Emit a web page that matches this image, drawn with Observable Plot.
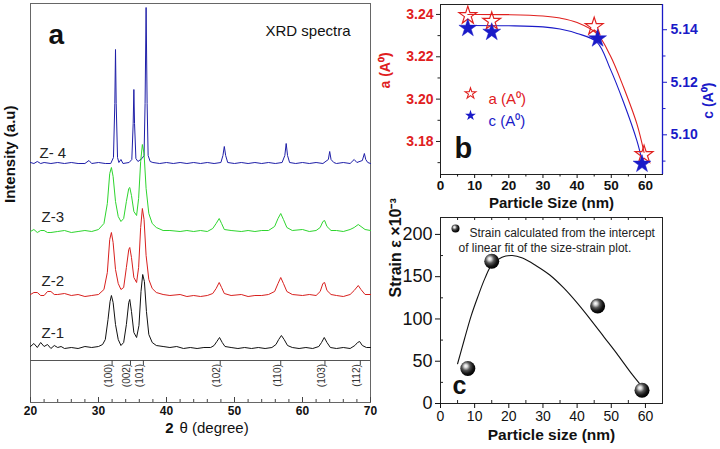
<!DOCTYPE html>
<html><head><meta charset="utf-8">
<script src="https://cdn.jsdelivr.net/npm/d3@7"></script>
<script src="https://cdn.jsdelivr.net/npm/@observablehq/plot@0.6"></script>
<style>
html,body{margin:0;padding:0;background:#fff;}
#wrap{position:relative;width:720px;height:449px;overflow:hidden;background:#fff;}
#wrap > div{position:absolute;}
svg{overflow:visible;}
</style></head>
<body><div id="wrap"><div id="pa" style="left:0;top:0"></div><div id="pb" style="left:370px;top:0"></div><div id="pc" style="left:370px;top:212px"></div></div>
<script>
// ---------------- DATA ----------------
// Panel a: XRD spectra, [2theta, intensity above own baseline]
const spectraNames = ["Z-1", "Z-2", "Z-3", "Z- 4"];
const spectraOffsets = [53, 105, 169, 239];
const z1Points = [[20,3],[20.5,6],[21,2],[21.5,7],[22,3],[22.5,5],[23,1],[23.5,4],[24,2],[24.5,3],[25,1],[26,2],[27,1],[28,3],[29,2],[30,3],[30.6,5],[31.0,10],[31.4,30],[31.7,48],[31.9,54],[32.15,47],[32.5,25],[32.9,10],[33.3,4],[33.7,7],[34.1,25],[34.45,47],[34.6,50],[34.85,38],[35.2,17],[35.6,12],[35.95,24],[36.25,58],[36.5,75],[36.75,68],[37.05,38],[37.4,15],[37.9,7],[38.5,4],[39.5,3],[40.5,2],[41.5,3],[42.5,1],[43.5,2],[44.5,1],[45.5,2],[46.5,2],[47.0,4],[47.4,8],[47.8,12],[48.2,7],[48.6,3],[49.5,2],[50.5,1],[51.5,2],[52.5,1],[53.5,2],[54.5,1],[55.5,2],[56.1,5],[56.5,10],[56.9,14],[57.3,10],[57.8,4],[58.5,2],[59.5,1],[60.5,2],[61.5,1],[62.4,3],[62.8,7],[63.2,12],[63.6,7],[64.1,2],[65,1],[66,2],[67,1],[67.7,4],[68.1,7],[68.4,8],[68.8,4],[69.4,2],[70,2]];
const z2Points = [[20,3],[20.5,5],[21,5],[21.5,2],[22,2],[22.5,6],[23,6],[23.5,3],[24,3],[25,4],[26,2],[27,3],[28,1],[29,2],[30,3],[30.8,8],[31.3,25],[31.65,58],[31.9,65],[32.15,55],[32.5,28],[32.9,14],[33.3,8],[33.7,10],[34.1,30],[34.45,48],[34.6,50],[34.85,40],[35.2,20],[35.6,15],[35.9,30],[36.2,70],[36.45,89],[36.7,78],[37.0,42],[37.4,18],[37.9,9],[38.5,5],[39.5,3],[40.5,2],[42,3],[43,1],[44,2],[45,1],[46,2],[46.8,4],[47.3,9],[47.75,15],[48.1,10],[48.5,4],[49.5,2],[51,3],[52,1],[53,2],[54,2],[55,3],[55.9,6],[56.4,14],[56.8,20],[57.2,14],[57.7,6],[58.5,3],[60,2],[61,3],[62,2],[62.6,6],[63.0,14],[63.25,15],[63.6,7],[64.2,3],[65,2],[66,1],[67,3],[67.6,7],[68.2,12],[68.6,8],[69.2,3],[70,3]];
const z3Points = [[20,2],[20.5,4],[21,1],[21.5,3],[22,3],[22.5,1],[23,1],[24,2],[25,3],[26,1],[27,2],[28,3],[29,2],[30,4],[30.8,10],[31.3,30],[31.65,60],[31.9,66],[32.15,57],[32.5,32],[32.9,17],[33.3,12],[33.7,15],[34.1,32],[34.45,45],[34.6,46],[34.85,38],[35.2,22],[35.6,18],[35.9,35],[36.2,72],[36.45,89],[36.7,80],[37.0,45],[37.4,20],[37.9,10],[38.5,6],[39.5,3],[40.5,3],[42,2],[43,3],[44,2],[45,3],[46,2],[46.8,5],[47.3,10],[47.75,15],[48.1,10],[48.5,4],[49.5,3],[51,2],[52,3],[53,2],[54,3],[55,3],[55.9,7],[56.4,15],[56.8,20],[57.2,14],[57.7,6],[58.5,3],[60,4],[61,2],[62,3],[62.6,6],[63.0,12],[63.25,13],[63.6,7],[64.2,3],[65,3],[66,2],[67,4],[67.6,6],[68.2,9],[68.6,7],[69.2,4],[70,3]];
const z4Points = [[20,1],[20.5,0],[21,2],[21.5,0],[22,1],[23,0],[24,1],[25,0],[26,1],[27,0],[28,0],[28.6,3],[29,0],[30,1],[31,0],[31.8,0],[32.2,6],[32.4,60],[32.5,114],[32.6,60],[32.8,6],[33.0,1],[33.3,4],[33.6,0],[34.5,1],[34.9,4],[35.1,40],[35.2,74],[35.3,40],[35.5,5],[35.8,2],[36.4,5],[36.7,8],[36.85,60],[37.0,156],[37.15,60],[37.3,8],[37.6,2],[38,1],[39,0],[40,1],[41,0],[42,1],[43,0],[44,1],[45,0],[46,1],[47,0],[48,1],[48.3,8],[48.5,17],[48.7,8],[49,1],[50,0],[51,1],[52,0],[53,1],[54,0],[55,1],[56,0],[57,1],[57.4,8],[57.6,20],[57.8,8],[58.1,1],[59,0],[60,1],[61,0],[62,1],[63,0],[63.8,4],[64.0,12],[64.2,4],[64.6,1],[65,0],[66,1],[67,0],[67.6,4],[68,1],[68.8,3],[69.1,10],[69.3,4],[69.6,1],[70,0]];
const hklLabels = ["(100)", "(002)", "(101)", "(102)", "(110)", "(103)", "(112)"];
const hklPos = [32.0, 34.7, 36.6, 47.9, 56.8, 63.3, 68.5];
const xTicksA = [20, 30, 40, 50, 60, 70];

// Panel b: lattice parameters vs particle size
const sizeA = [8, 15, 45, 59.6];
const aValues = [3.2395, 3.2368, 3.2343, 3.1738];
const sizeC = [8, 15, 46, 59];
const cValues = [5.1406, 5.1391, 5.1366, 5.0889];
const aFitX = [8, 20, 30, 35, 40, 45.8, 49.7, 53.6, 57.5, 59.6];
const aFitY = [3.2400, 3.2399, 3.2393, 3.2383, 3.2362, 3.2309, 3.2206, 3.2056, 3.1883, 3.1748];
const cFitX = [8, 20, 30, 35, 40, 45.8, 49.7, 53.6, 57.5, 59];
const cFitY = [5.1416, 5.1415, 5.1411, 5.1403, 5.1386, 5.1353, 5.1251, 5.1124, 5.0978, 5.0902];
const aTicks = [3.18, 3.20, 3.22, 3.24];
const cTicks = [5.10, 5.12, 5.14];
const xTicksB = [0, 10, 20, 30, 40, 50, 60];

// Panel c: strain vs particle size
const sizeStrain = [8, 15, 46, 59];
const strainValues = [41.4, 168.2, 115.4, 15.7];
const strainFitX = [5, 7, 9, 11, 13, 15, 18, 21, 24, 28, 32, 36, 40, 44, 48, 52, 56, 59];
const strainFitY = [47, 76, 104, 127, 148, 164, 173, 175, 172, 163, 152, 137, 119, 99, 78, 57, 35, 20];
const strainTicks = [0, 50, 100, 150, 200];

// ---------------- STYLE ----------------
const FONT = '"Liberation Sans", Arial, Helvetica, sans-serif';
const RED = "#e0201e", BLUE = "#1a1ac8";
const specColors = ["#111111", "#d8201e", "#2ed52e", "#1f1fa8"];

// ---------------- PANEL A ----------------
const SEP = 42;          // separator line (intensity units)
const FH_A = 399;        // frame height in px
const toRows = (pts, off) => pts.map(([t, v]) => ({t, I: off + v}));
const allSpectra = [z1Points, z2Points, z3Points, z4Points];
const minorA = d3.range(22, 70, 2).filter(d => d % 10 !== 0);
const lineMarks = [3, 2, 1, 0].map(i =>
  Plot.line(toRows(allSpectra[i], spectraOffsets[i]), {x: "t", y: "I", stroke: specColors[i], strokeWidth: 1})
);
const pa = Plot.plot({
  width: 372, height: 449, marginLeft: 30, marginRight: 2, marginTop: 3, marginBottom: 47,
  style: {fontFamily: FONT, background: "transparent", color: "#111"},
  x: {domain: [20, 70]},
  y: {domain: [0, 399], axis: null},
  marks: [
    Plot.frame({stroke: "#666"}),
    Plot.ruleY([SEP], {stroke: "#555"}),
    Plot.ruleX(hklPos, {stroke: "#444", insetTop: 357, insetBottom: 37}),
    Plot.text(hklLabels, {x: hklPos, text: d => d, frameAnchor: "bottom", dy: -27, rotate: -90, fontSize: 10, fill: "#333"}),
    Plot.ruleX(minorA, {stroke: "#444", insetTop: FH_A - 3}),
    Plot.ruleX(xTicksA, {stroke: "#444", insetTop: FH_A - 5}),
    Plot.axisX({ticks: xTicksA, tickSize: 0, tickPadding: 4, fontSize: 12, fontWeight: "bold", label: null}),
    ...lineMarks,
    Plot.text(spectraNames.slice(0, 3), {y: spectraOffsets.slice(0, 3), text: d => d, frameAnchor: "left", dx: 11, dy: -16, textAnchor: "start", fontSize: 15, fill: "#222"}),
    Plot.text(spectraNames.slice(3), {y: spectraOffsets.slice(3), text: d => d, frameAnchor: "left", dx: 9, dy: -10, textAnchor: "start", fontSize: 15, fill: "#222"}),
    Plot.text(["a"], {text: d => d, frameAnchor: "top-left", dx: 18, dy: 21, textAnchor: "start", fontSize: 28, fontWeight: "bold"}),
    Plot.text(["XRD spectra"], {text: d => d, frameAnchor: "top-right", dx: -20, dy: 22, textAnchor: "end", fontSize: 15}),
    Plot.text(["Intensity (a.u)"], {text: d => d, frameAnchor: "left", dx: -20, rotate: -90, fontSize: 15, fontWeight: "bold"}),
    Plot.text(["2"], {text: d => d, frameAnchor: "bottom", dx: -31, dy: 30.5, fontSize: 15, fontWeight: "bold"}),
    Plot.text(["θ (degree)"], {text: d => d, frameAnchor: "bottom", dx: -21, dy: 30.5, textAnchor: "start", fontSize: 15})
  ]
});
document.getElementById("pa").appendChild(pa);

// ---------------- PANEL B ----------------
const aDom = [3.1644, 3.2447];
const cDom = [5.0849, 5.1496];
const c2a = d3.scaleLinear(cDom, aDom);
const aMinor = [3.17, 3.19, 3.21, 3.23];
const cMinor = [5.09, 5.11, 5.13];
const xMinorB = [5, 15, 25, 35, 45, 55];
const pb = Plot.plot({
  width: 350, height: 212, marginLeft: 70, marginRight: 58, marginTop: 4, marginBottom: 38,
  style: {fontFamily: FONT, background: "transparent", color: "#111"},
  x: {domain: [0, 65]},
  y: {domain: aDom},
  marks: [
    Plot.frame({stroke: "#222"}),
    Plot.ruleX([65], {stroke: BLUE, strokeWidth: 1.3}),
    Plot.axisX({ticks: xTicksB, tickSize: 4, tickPadding: 2, fontSize: 13.5, fontWeight: "bold", label: null}),
    Plot.axisX({ticks: xMinorB, tickSize: 2.5, tickFormat: () => "", label: null}),
    Plot.axisY({ticks: aTicks, tickSize: 4, tickPadding: 3, tickFormat: d => d.toFixed(2), fontSize: 14, fontWeight: "bold", fill: RED, stroke: "#222", label: null}),
    Plot.axisY({ticks: aMinor, tickSize: 2.5, tickFormat: () => "", stroke: "#222", label: null}),
    Plot.axisY({anchor: "right", ticks: cTicks.map(c2a), tickFormat: d => c2a.invert(d).toFixed(2), tickSize: 4, tickPadding: 4, fontSize: 14, fontWeight: "bold", fill: BLUE, stroke: BLUE, label: null}),
    Plot.axisY({anchor: "right", ticks: cMinor.map(c2a), tickFormat: () => "", tickSize: 2.5, stroke: BLUE, label: null}),
    Plot.line(aFitX.map((x, i) => ({x, y: aFitY[i]})), {x: "x", y: "y", stroke: RED, strokeWidth: 1.1, curve: "catmull-rom"}),
    Plot.line(cFitX.map((x, i) => ({x, y: c2a(cFitY[i])})), {x: "x", y: "y", stroke: BLUE, strokeWidth: 1.1, curve: "catmull-rom"}),
    Plot.dot(sizeA.map((x, i) => ({x, y: aValues[i]})), {x: "x", y: "y", symbol: "star", r: 5.6, stroke: RED, fill: "none", strokeWidth: 1.2}),
    Plot.dot(sizeC.map((x, i) => ({x, y: c2a(cValues[i])})), {x: "x", y: "y", symbol: "star", r: 5.6, fill: BLUE, stroke: BLUE, strokeWidth: 0.5}),
    // legend
    Plot.dot([0], {frameAnchor: "top-left", dx: 30, dy: 89, symbol: "star", r: 3.4, stroke: RED, fill: "none", strokeWidth: 1.1}),
    Plot.text(["a (A⁰)"], {text: d => d, frameAnchor: "top-left", dx: 48, dy: 89, textAnchor: "start", fontSize: 15, fill: RED}),
    Plot.dot([0], {frameAnchor: "top-left", dx: 30, dy: 111, symbol: "star", r: 3.4, fill: BLUE}),
    Plot.text(["c (A⁰)"], {text: d => d, frameAnchor: "top-left", dx: 48, dy: 111, textAnchor: "start", fontSize: 15, fill: BLUE}),
    Plot.text(["b"], {text: d => d, frameAnchor: "bottom-left", dx: 14, dy: -17, textAnchor: "start", fontSize: 29, fontWeight: "bold"}),
    Plot.text(["a (A⁰)"], {text: d => d, frameAnchor: "left", dx: -55, dy: -1, rotate: -90, fontSize: 14, fontWeight: "bold", fill: RED}),
    Plot.text(["c (A⁰)"], {text: d => d, frameAnchor: "right", dx: 46, dy: -7, rotate: -90, fontSize: 14, fontWeight: "bold", fill: BLUE}),
    Plot.text(["Particle Size (nm)"], {text: d => d, frameAnchor: "bottom", dy: 33.5, fontSize: 15, fontWeight: "bold"})
  ]
});
document.getElementById("pb").appendChild(pb);

// ---------------- PANEL C ----------------
const FH_C = 186, FW_C = 222;
const xMinorC = [5, 15, 25, 35, 45, 55];
const yMinorC = [25, 75, 125, 175];
const pc = Plot.plot({
  width: 350, height: 237, marginLeft: 70, marginRight: 58, marginTop: 5, marginBottom: 46,
  style: {fontFamily: FONT, background: "transparent", color: "#111"},
  x: {domain: [0, 65]},
  y: {domain: [0, 220]},
  marks: [
    Plot.frame({stroke: "#222"}),
    Plot.axisX({ticks: xTicksB, tickSize: 5, tickPadding: 3, fontSize: 14, label: null}),
    Plot.axisY({ticks: strainTicks, tickSize: 5, tickPadding: 3, fontSize: 18, label: null}),
    Plot.ruleX(xMinorC, {stroke: "#222", insetTop: FH_C - 3}),
    Plot.ruleX(xMinorC.concat(xTicksB.slice(1)), {stroke: "#222", insetBottom: FH_C - 3}),
    Plot.ruleY(yMinorC, {stroke: "#222", insetRight: FW_C - 3}),
    Plot.line(strainFitX.map((x, i) => ({x, y: strainFitY[i]})), {x: "x", y: "y", stroke: "#111", strokeWidth: 1.1, curve: "catmull-rom"}),
    Plot.dot(sizeStrain.map((x, i) => ({x, y: strainValues[i]})), {x: "x", y: "y", r: 7.5, fill: "url(#sph)", stroke: "none"}),
    // legend
    Plot.dot([0], {frameAnchor: "top-left", dx: 15, dy: 11, r: 4, fill: "url(#sph)", stroke: "none"}),
    Plot.text(["Strain calculated from the intercept"], {text: d => d, frameAnchor: "top-left", dx: 29, dy: 11, textAnchor: "start", fontSize: 12, fill: "#222"}),
    Plot.text(["of linear fit of the size-strain plot."], {text: d => d, frameAnchor: "top-left", dx: 18, dy: 26, textAnchor: "start", fontSize: 12, fill: "#222"}),
    Plot.text(["c"], {text: d => d, frameAnchor: "bottom-left", dx: 12, dy: -10, textAnchor: "start", fontSize: 25, fontWeight: "bold"}),
    Plot.text(["Strain ε ×10⁻³"], {text: d => d, frameAnchor: "left", dx: -45, dy: -13, rotate: -90, fontSize: 16, fontWeight: "bold"}),
    Plot.text(["Particle size (nm)"], {text: d => d, frameAnchor: "bottom", dy: 36, fontSize: 15.5, fontWeight: "bold"})
  ]
});
const grad = d3.select(pc).insert("defs", ":first-child").append("radialGradient")
  .attr("id", "sph").attr("cx", "40%").attr("cy", "38%").attr("r", "62%").attr("fx", "36%").attr("fy", "33%");
[["0%", "#ffffff"], ["18%", "#d8d8d8"], ["45%", "#555555"], ["75%", "#151515"], ["100%", "#000000"]]
  .forEach(([o, c]) => grad.append("stop").attr("offset", o).attr("stop-color", c));
document.getElementById("pc").appendChild(pc);
</script></body></html>
